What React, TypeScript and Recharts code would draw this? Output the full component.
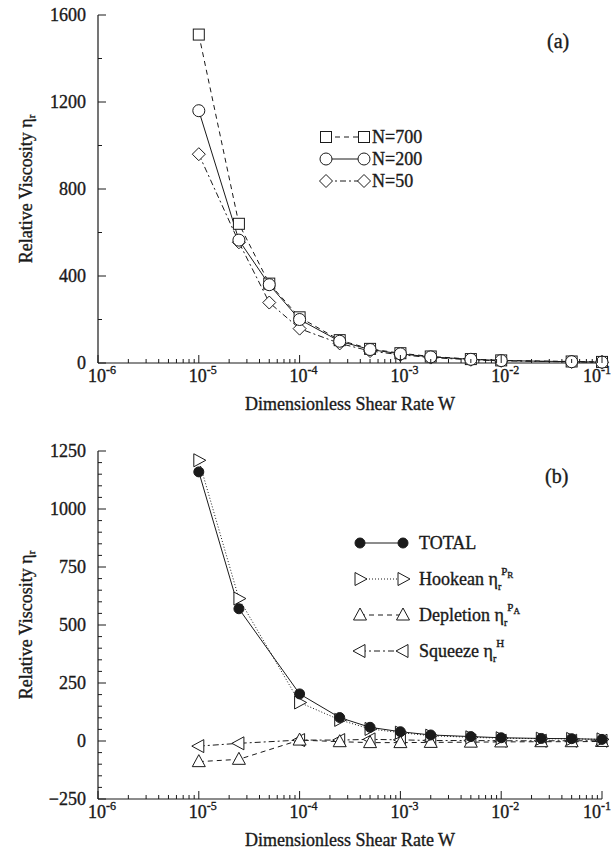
import React from 'react';
import { LineChart, Line, XAxis, YAxis, Legend, Label } from 'recharts';

// panel (a): relative viscosity for three system sizes
const shearA = [1e-5, 2.5e-5, 5e-5, 1e-4, 2.5e-4, 5e-4, 1e-3, 2e-3, 5e-3, 1e-2, 5e-2, 1e-1];
const n700 = [1510, 640, 365, 210, 105, 65, 45, 30, 18, 12, 7, 5];
const n200 = [1160, 565, 360, 200, 100, 62, 42, 28, 17, 11, 6, 4];
const n50 = [960, 555, 278, 158, 90, 55, 38, 25, 15, 10, 5, 3];

// panel (b): contributions to the total
const shearB = [1e-5, 2.5e-5, 1e-4, 2.5e-4, 5e-4, 1e-3, 2e-3, 5e-3, 1e-2, 2.5e-2, 5e-2, 1e-1];
const total = [1160, 570, 203, 101, 59, 40, 26, 19, 14, 11, 10, 7];
const hookean = [1210, 614, 166, 91, 52, 36, 23, 16, 12, 10, 9, 7];
const depletion = [-89, -79, 4, -3, -7, -7, -6, -5, -4, -3, -3, -2];
const squeeze = [-22, -10, 4, 4, 7, 5, 2, 2, 1, 1, 1, 1];

const decades = [1e-6, 1e-5, 1e-4, 1e-3, 1e-2, 1e-1];
const decadeLabels = ['-6', '-5', '-4', '-3', '-2', '-1'];
const minorSteps = [2, 3, 4, 5, 6, 7, 8, 9];
const xTicks = [...decades, ...decades.slice(0, -1).flatMap((d) => minorSteps.map((m) => d * m))];

const yTicksA = [0, 200, 400, 600, 800, 1000, 1200, 1400, 1600];
const yLabelsA = [0, 400, 800, 1200, 1600];
const yTicksB = [-250, -200, -150, -100, -50, 0, 50, 100, 150, 200, 250, 300, 350, 400, 450, 500, 550, 600, 650, 700, 750, 800, 850, 900, 950, 1000, 1050, 1100, 1150, 1200, 1250];
const yLabelsB = [-250, 0, 250, 500, 750, 1000, 1250];

const dataA = shearA.map((w, i) => ({ w, n700: n700[i], n200: n200[i], n50: n50[i] }));
const dataB = shearB.map((w, i) => ({ w, total: total[i], hookean: hookean[i], depletion: depletion[i], squeeze: squeeze[i] }));

const FONT = 'Liberation Serif, Tinos, Times New Roman, DejaVu Serif, serif';
const INK = '#1a1a1a';
const txt = { fontFamily: FONT, fill: INK, stroke: INK, strokeWidth: 0.35 };

const decadeIndex = (v: number) => decades.findIndex((d) => Math.abs(d - v) / d < 1e-6);

function Marker({ shape, cx, cy }: { shape: string; cx: number; cy: number }) {
  const s = 5.5;
  const common = { stroke: INK, strokeWidth: 1, fill: 'white' };
  switch (shape) {
    case 'square':
      return <rect x={cx - s} y={cy - s} width={2 * s} height={2 * s} {...common} />;
    case 'circle':
      return <circle cx={cx} cy={cy} r={s + 0.5} {...common} />;
    case 'diamond':
      return <polygon points={`${cx},${cy - 6.5} ${cx + 6.5},${cy} ${cx},${cy + 6.5} ${cx - 6.5},${cy}`} {...common} />;
    case 'dot':
      return <circle cx={cx} cy={cy} r={5} fill={INK} stroke={INK} />;
    case 'right':
      return <polygon points={`${cx - 5},${cy - 6.5} ${cx + 7},${cy} ${cx - 5},${cy + 6.5}`} {...common} />;
    case 'up':
      return <polygon points={`${cx},${cy - 7} ${cx + 6.5},${cy + 5} ${cx - 6.5},${cy + 5}`} {...common} />;
    case 'left':
      return <polygon points={`${cx + 5},${cy - 6.5} ${cx - 7},${cy} ${cx + 5},${cy + 6.5}`} {...common} />;
    default:
      return null;
  }
}

const dotOf = (shape: string) => (p: any) => <Marker key={p.index} shape={shape} cx={p.cx} cy={p.cy} />;

function BottomTick(props: any) {
  const { x, y, payload } = props;
  const i = decadeIndex(payload.value);
  const major = i >= 0;
  const last = i === decades.length - 1;
  return (
    <g>
      <line x1={x} y1={y} x2={x} y2={y - (major ? 8 : 4)} stroke={INK} strokeWidth={1} />
      {major && (
        <text x={last ? x - 19 : x - 10} y={y + 19} fontSize={18} {...txt}>
          10
          <tspan dy={-8} fontSize={12}>{decadeLabels[i]}</tspan>
        </text>
      )}
    </g>
  );
}

function TopTick(props: any) {
  const { x, y, payload } = props;
  const major = decadeIndex(payload.value) >= 0;
  return <line x1={x} y1={y} x2={x} y2={y + (major ? 8 : 4)} stroke={INK} strokeWidth={1} />;
}

const leftTick = (labels: number[]) => (props: any) => {
  const { x, y, payload } = props;
  const v = payload.value;
  const major = labels.includes(v);
  return (
    <g>
      <line x1={x} y1={y} x2={x + (major ? 8 : 4)} y2={y} stroke={INK} strokeWidth={1} />
      {major && (
        <text x={x - 12} y={y + 6} textAnchor="end" fontSize={18} {...txt}>
          {v < 0 ? `\u2212${Math.abs(v)}` : v}
        </text>
      )}
    </g>
  );
};

const rightTick = (labels: number[]) => (props: any) => {
  const { x, y, payload } = props;
  const major = labels.includes(payload.value);
  return <line x1={x} y1={y} x2={x - (major ? 8 : 4)} y2={y} stroke={INK} strokeWidth={1} />;
};

const yTitle = (props: any) => {
  const vb = props.viewBox;
  const cy = vb.y + vb.height / 2;
  return (
    <text x={26} y={cy} transform={`rotate(-90 26 ${cy})`} textAnchor="middle" fontSize={18} dominantBaseline="central" {...txt}>
      Relative Viscosity η<tspan dy={5} fontSize={11}>r</tspan>
    </text>
  );
};

const legendA = [
  { label: 'N=700', shape: 'square', dash: '5 4' },
  { label: 'N=200', shape: 'circle', dash: undefined },
  { label: 'N=50', shape: 'diamond', dash: '6 3 2 3' },
];

function LegendA() {
  return (
    <svg width={170} height={80}>
      {legendA.map((r, i) => {
        const y = 17 + i * 22;
        return (
          <g key={r.label}>
            <line x1={26} y1={y} x2={64} y2={y} stroke={INK} strokeDasharray={r.dash} />
            <Marker shape={r.shape} cx={26} cy={y} />
            <Marker shape={r.shape} cx={64} cy={y} />
            <text x={72} y={y + 6} fontSize={18} {...txt}>{r.label}</text>
          </g>
        );
      })}
    </svg>
  );
}

const legendB = [
  { name: 'TOTAL', sup: '', sub2: '', shape: 'dot', dash: undefined },
  { name: 'Hookean η', sup: 'P', sub2: 'R', shape: 'right', dash: '1 2' },
  { name: 'Depletion η', sup: 'P', sub2: 'A', shape: 'up', dash: '5 4' },
  { name: 'Squeeze η', sup: 'H', sub2: '', shape: 'left', dash: '6 3 2 3' },
];

function LegendB() {
  return (
    <svg width={240} height={150}>
      {legendB.map((r, i) => {
        const y = 23 + i * 36;
        return (
          <g key={r.name}>
            <line x1={30} y1={y} x2={73} y2={y} stroke={INK} strokeDasharray={r.dash} />
            <Marker shape={r.shape} cx={30} cy={y} />
            <Marker shape={r.shape} cx={73} cy={y} />
            <text x={89} y={y + 6} fontSize={18} {...txt}>
              {r.name}
              {r.name !== 'TOTAL' && (
                <>
                  <tspan dy={5} fontSize={10}>r</tspan>
                  <tspan dy={-15} fontSize={11}>{r.sup}</tspan>
                  {r.sub2 && <tspan dy={3} fontSize={9}>{r.sub2}</tspan>}
                </>
              )}
            </text>
          </g>
        );
      })}
    </svg>
  );
}

const panelTag: React.CSSProperties = {
  position: 'absolute',
  fontFamily: FONT,
  fontSize: 20,
  color: INK,
  WebkitTextStroke: '0.35px #1a1a1a',
};

const axisLine = { stroke: INK, strokeWidth: 1.2 };
const titleStyle = { fontFamily: FONT, fontSize: 18, fill: INK, stroke: INK, strokeWidth: 0.35 };

export default function App() {
  return (
    <div style={{ position: 'absolute', left: 0, top: 0, width: 613, height: 854, background: 'white' }}>
      <div style={{ position: 'absolute', left: 0, top: 0 }}>
        <LineChart width={613} height={420} data={dataA} margin={{ top: 15, right: 11, bottom: 0, left: 0 }}>
          <XAxis dataKey="w" type="number" scale="log" domain={[1e-6, 1e-1]} ticks={xTicks} interval={0} height={57}
            tick={BottomTick} tickLine={false} tickSize={0} tickMargin={0} axisLine={axisLine}>
            <Label value="Dimensionless Shear Rate W" position="insideBottom" offset={10} style={titleStyle} />
          </XAxis>
          <XAxis xAxisId="top" orientation="top" dataKey="w" type="number" scale="log" domain={[1e-6, 1e-1]} ticks={xTicks}
            interval={0} height={0} tick={TopTick} tickLine={false} tickSize={0} tickMargin={0} axisLine={axisLine} />
          <YAxis type="number" domain={[0, 1600]} ticks={yTicksA} interval={0} width={98} tick={leftTick(yLabelsA)}
            tickLine={false} tickSize={0} tickMargin={0} axisLine={axisLine}>
            <Label content={yTitle} />
          </YAxis>
          <YAxis yAxisId="right" orientation="right" type="number" domain={[0, 1600]} ticks={yTicksA} interval={0} width={0}
            tick={rightTick(yLabelsA)} tickLine={false} tickSize={0} tickMargin={0} axisLine={axisLine} />
          <Legend layout="vertical" align="center" verticalAlign="middle" content={() => <LegendA />}
            wrapperStyle={{ position: 'absolute', left: 300, top: 120, width: 170, height: 80 }} />
          <Line dataKey="n50" stroke={INK} strokeWidth={1} strokeDasharray="6 3 2 3" dot={dotOf('diamond')} isAnimationActive={false} />
          <Line dataKey="n700" stroke={INK} strokeWidth={1} strokeDasharray="5 4" dot={dotOf('square')} isAnimationActive={false} />
          <Line dataKey="n200" stroke={INK} strokeWidth={1} dot={dotOf('circle')} isAnimationActive={false} />
        </LineChart>
        <div style={{ ...panelTag, left: 547, top: 30 }}>(a)</div>
      </div>
      <div style={{ position: 'absolute', left: 0, top: 420 }}>
        <LineChart width={613} height={434} data={dataB} margin={{ top: 31, right: 11, bottom: 0, left: 0 }}>
          <XAxis dataKey="w" type="number" scale="log" domain={[1e-6, 1e-1]} ticks={xTicks} interval={0} height={55}
            tick={BottomTick} tickLine={false} tickSize={0} tickMargin={0} axisLine={axisLine}>
            <Label value="Dimensionless Shear Rate W" position="insideBottom" offset={8} style={titleStyle} />
          </XAxis>
          <XAxis xAxisId="top" orientation="top" dataKey="w" type="number" scale="log" domain={[1e-6, 1e-1]} ticks={xTicks}
            interval={0} height={0} tick={TopTick} tickLine={false} tickSize={0} tickMargin={0} axisLine={axisLine} />
          <YAxis type="number" domain={[-250, 1250]} ticks={yTicksB} interval={0} width={98} tick={leftTick(yLabelsB)}
            tickLine={false} tickSize={0} tickMargin={0} axisLine={axisLine}>
            <Label content={yTitle} />
          </YAxis>
          <YAxis yAxisId="right" orientation="right" type="number" domain={[-250, 1250]} ticks={yTicksB} interval={0} width={0}
            tick={rightTick(yLabelsB)} tickLine={false} tickSize={0} tickMargin={0} axisLine={axisLine} />
          <Legend layout="vertical" align="center" verticalAlign="middle" content={() => <LegendB />}
            wrapperStyle={{ position: 'absolute', left: 330, top: 100, width: 240, height: 150 }} />
          <Line dataKey="squeeze" stroke={INK} strokeWidth={1} strokeDasharray="6 3 2 3" dot={dotOf('left')} isAnimationActive={false} />
          <Line dataKey="depletion" stroke={INK} strokeWidth={1} strokeDasharray="5 4" dot={dotOf('up')} isAnimationActive={false} />
          <Line dataKey="hookean" stroke={INK} strokeWidth={1} strokeDasharray="1 2" dot={dotOf('right')} isAnimationActive={false} />
          <Line dataKey="total" stroke={INK} strokeWidth={1} dot={dotOf('dot')} isAnimationActive={false} />
        </LineChart>
        <div style={{ ...panelTag, left: 545, top: 45 }}>(b)</div>
      </div>
    </div>
  );
}
